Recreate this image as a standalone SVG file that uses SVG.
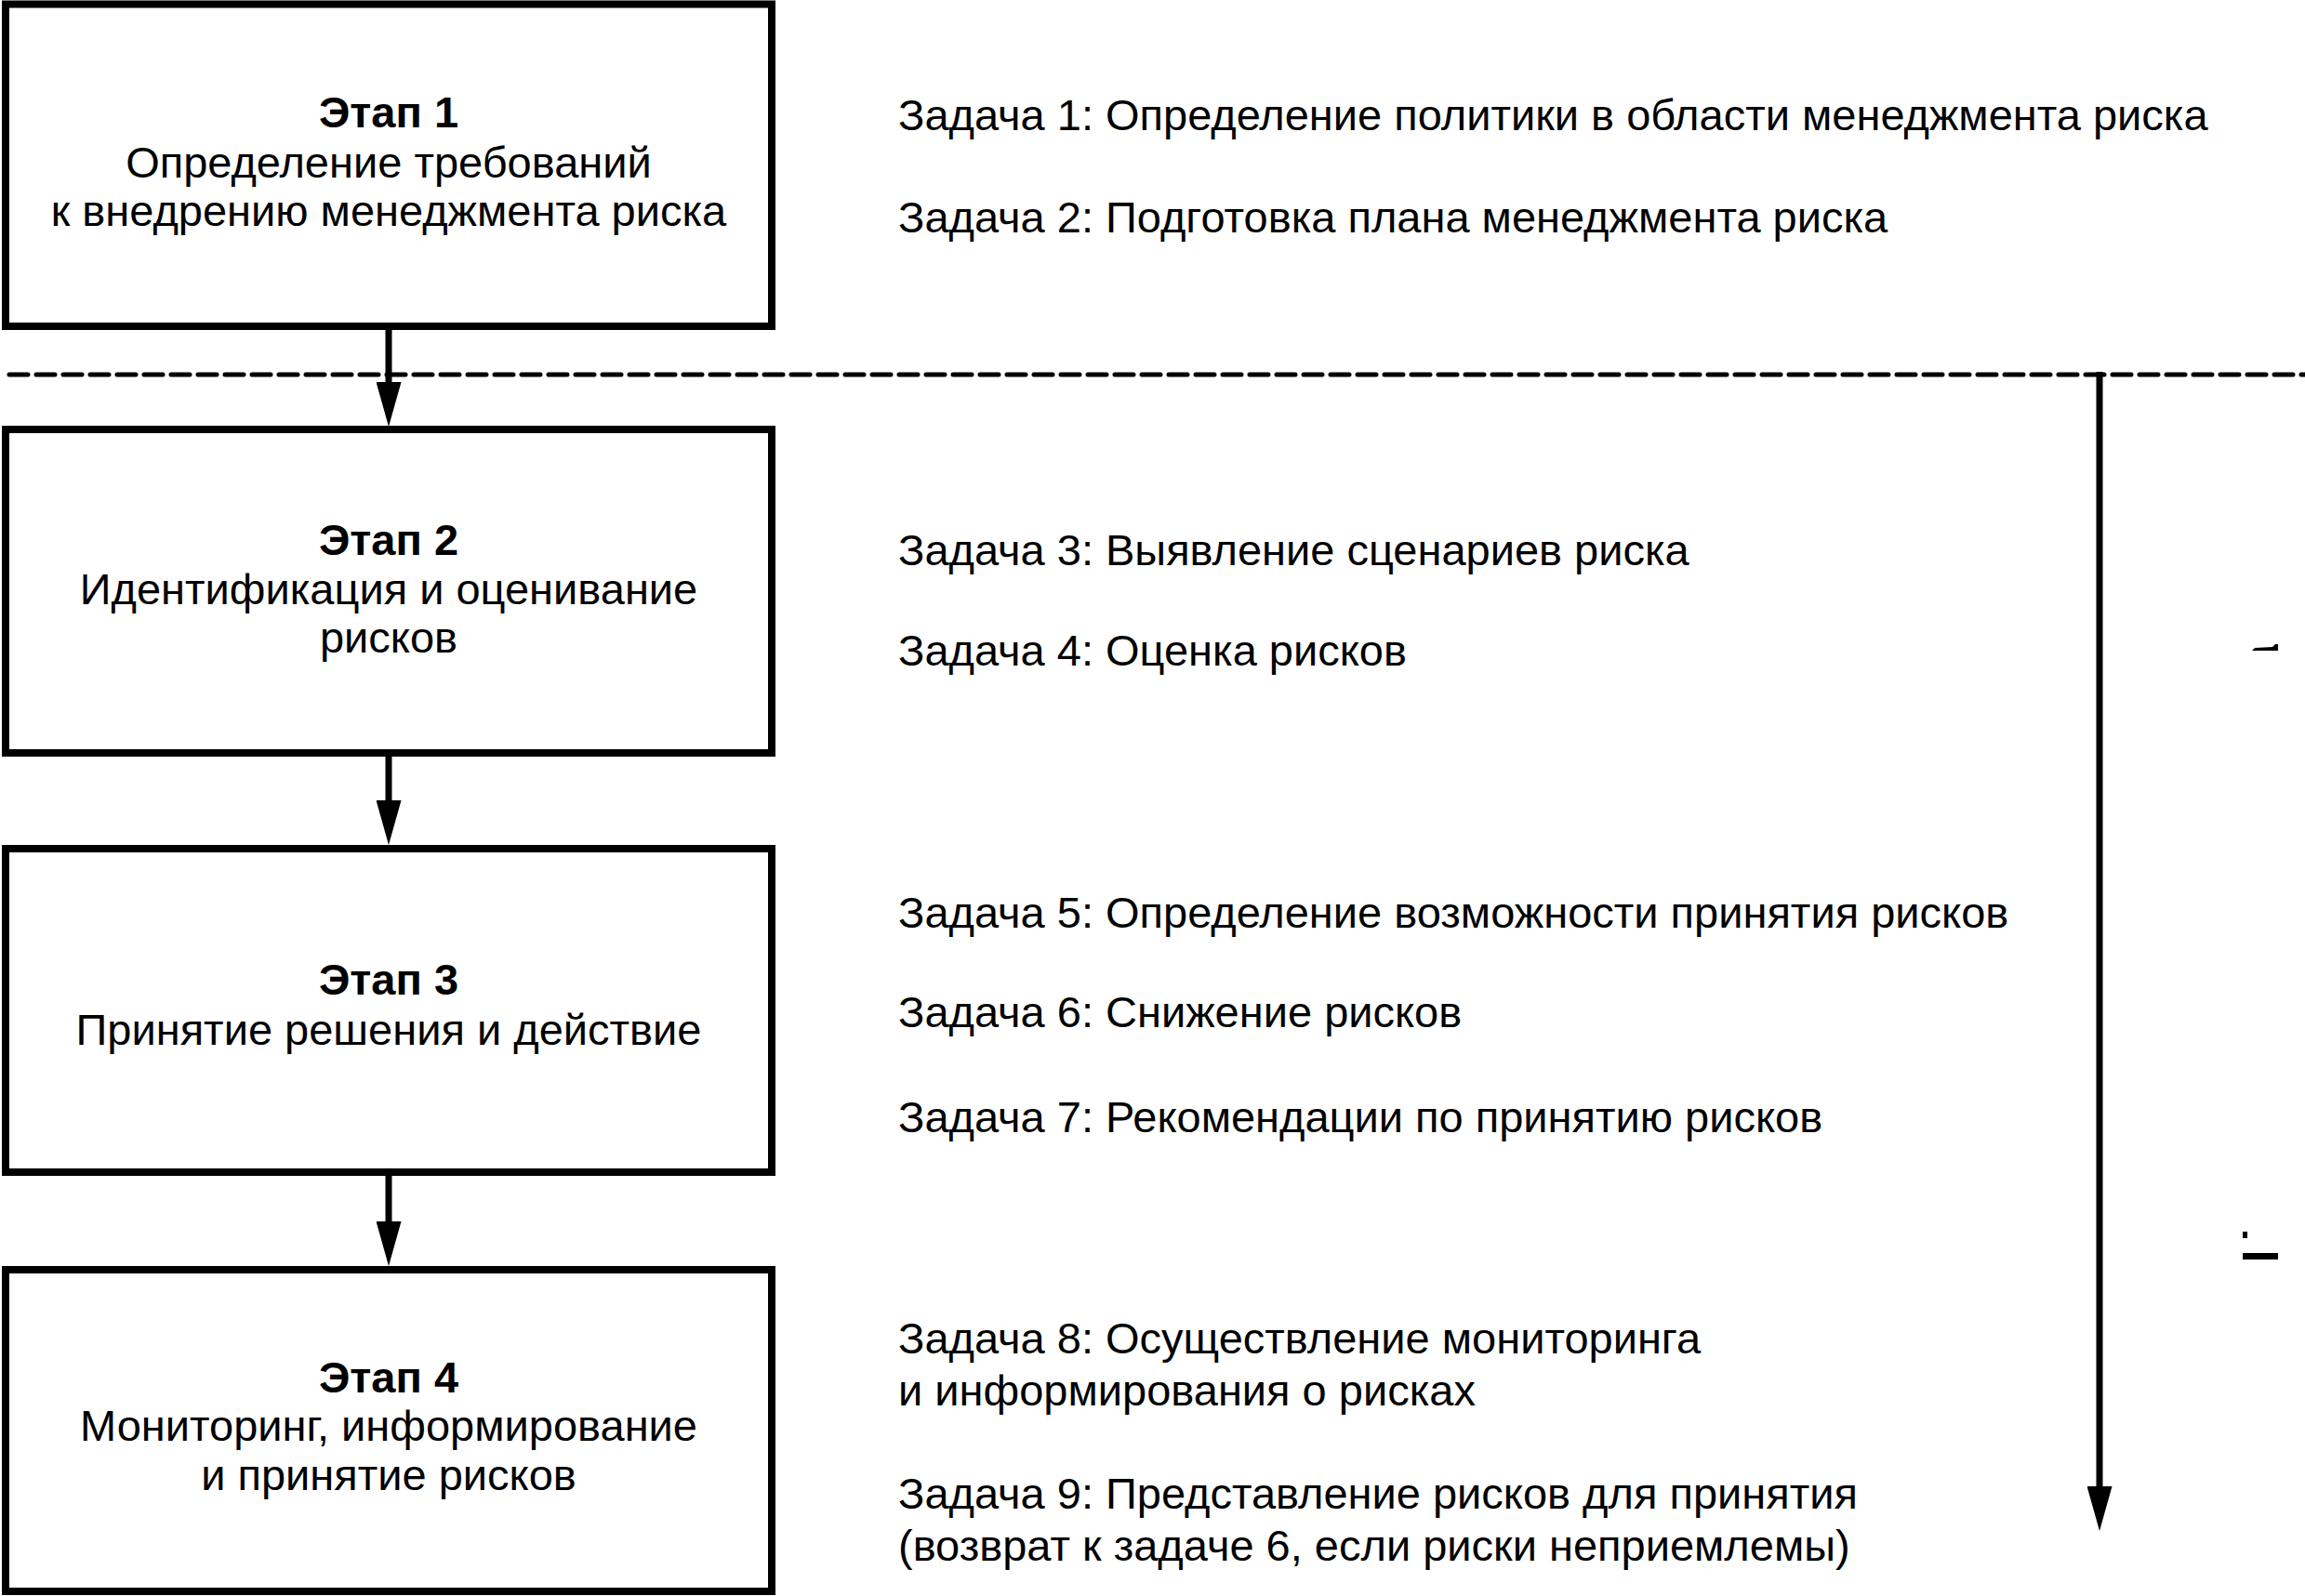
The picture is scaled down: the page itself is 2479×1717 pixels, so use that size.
<svg xmlns="http://www.w3.org/2000/svg" width="2479" height="1717" viewBox="0 0 2479 1717">
<style>
  .box { fill: #fff; stroke: #000; stroke-width: 8; }
  .stage { font-family: "Liberation Sans", Arial, sans-serif; font-size: 47px; fill: #000; text-anchor: middle; }
  .stage .b { font-weight: bold; }
  .task { font-family: "Liberation Sans", Arial, sans-serif; font-size: 47px; fill: #000; }
  .conn { stroke: #000; stroke-width: 7; fill: none; }
  .dash { stroke: #000; stroke-width: 5; fill: none; stroke-dasharray: 20 9; stroke-linecap: round; }
</style>
<defs>
  <marker id="arr" viewBox="0 0 48 27" refX="4" refY="13.5" markerWidth="48" markerHeight="27" markerUnits="userSpaceOnUse" orient="auto">
    <path d="M0,0 L48,13.5 L0,27 z" fill="#000"/>
  </marker>
</defs>
<rect width="2479" height="1717" fill="#fff"/>

<g id="connectors">
  <line class="dash" x1="10" y1="403" x2="2479" y2="403"/>
  <line class="conn" x1="418" y1="355" x2="418" y2="415" marker-end="url(#arr)"/>
  <line class="conn" x1="418" y1="814" x2="418" y2="865" marker-end="url(#arr)"/>
  <line class="conn" x1="418" y1="1265" x2="418" y2="1318" marker-end="url(#arr)"/>
  <line class="conn" x1="2258" y1="400" x2="2258" y2="1603" marker-end="url(#arr)"/>
</g>

<g id="stage1">
  <rect class="box" x="6" y="4.5" width="824" height="346.5"/>
  <text class="stage"><tspan class="b" x="418" y="137">Этап 1</tspan><tspan x="418" y="191">Определение требований</tspan><tspan x="418" y="243">к внедрению менеджмента риска</tspan></text>
</g>
<g id="stage2">
  <rect class="box" x="6" y="462" width="824" height="348"/>
  <text class="stage"><tspan class="b" x="418" y="597">Этап 2</tspan><tspan x="418" y="650">Идентификация и оценивание</tspan><tspan x="418" y="702">рисков</tspan></text>
</g>
<g id="stage3">
  <rect class="box" x="6" y="913" width="824" height="348"/>
  <text class="stage"><tspan class="b" x="418" y="1070">Этап 3</tspan><tspan x="418" y="1124">Принятие решения и действие</tspan></text>
</g>
<g id="stage4">
  <rect class="box" x="6" y="1366" width="824" height="346"/>
  <text class="stage"><tspan class="b" x="418" y="1498">Этап 4</tspan><tspan x="418" y="1550">Мониторинг, информирование</tspan><tspan x="418" y="1603">и принятие рисков</tspan></text>
</g>

<g id="tasks">
  <text class="task" x="966" y="140">Задача 1: Определение политики в области менеджмента риска</text>
  <text class="task" x="966" y="250">Задача 2: Подготовка плана менеджмента риска</text>
  <text class="task" x="966" y="608">Задача 3: Выявление сценариев риска</text>
  <text class="task" x="966" y="716">Задача 4: Оценка рисков</text>
  <text class="task" x="966" y="998">Задача 5: Определение возможности принятия рисков</text>
  <text class="task" x="966" y="1105">Задача 6: Снижение рисков</text>
  <text class="task" x="966" y="1218">Задача 7: Рекомендации по принятию рисков</text>
  <text class="task" x="966" y="1456">Задача 8: Осуществление мониторинга</text>
  <text class="task" x="966" y="1512">и информирования о рисках</text>
  <text class="task" x="966" y="1623">Задача 9: Представление рисков для принятия</text>
  <text class="task" x="966" y="1679">(возврат к задаче 6, если риски неприемлемы)</text>
</g>

<g id="marks" fill="#000">
  <polygon points="2422,700 2425,697 2444,696 2447,693 2450,693 2450,700"/>
  <rect x="2412" y="1325" width="5" height="7"/>
  <rect x="2412" y="1348" width="38" height="7"/>
</g>
</svg>
